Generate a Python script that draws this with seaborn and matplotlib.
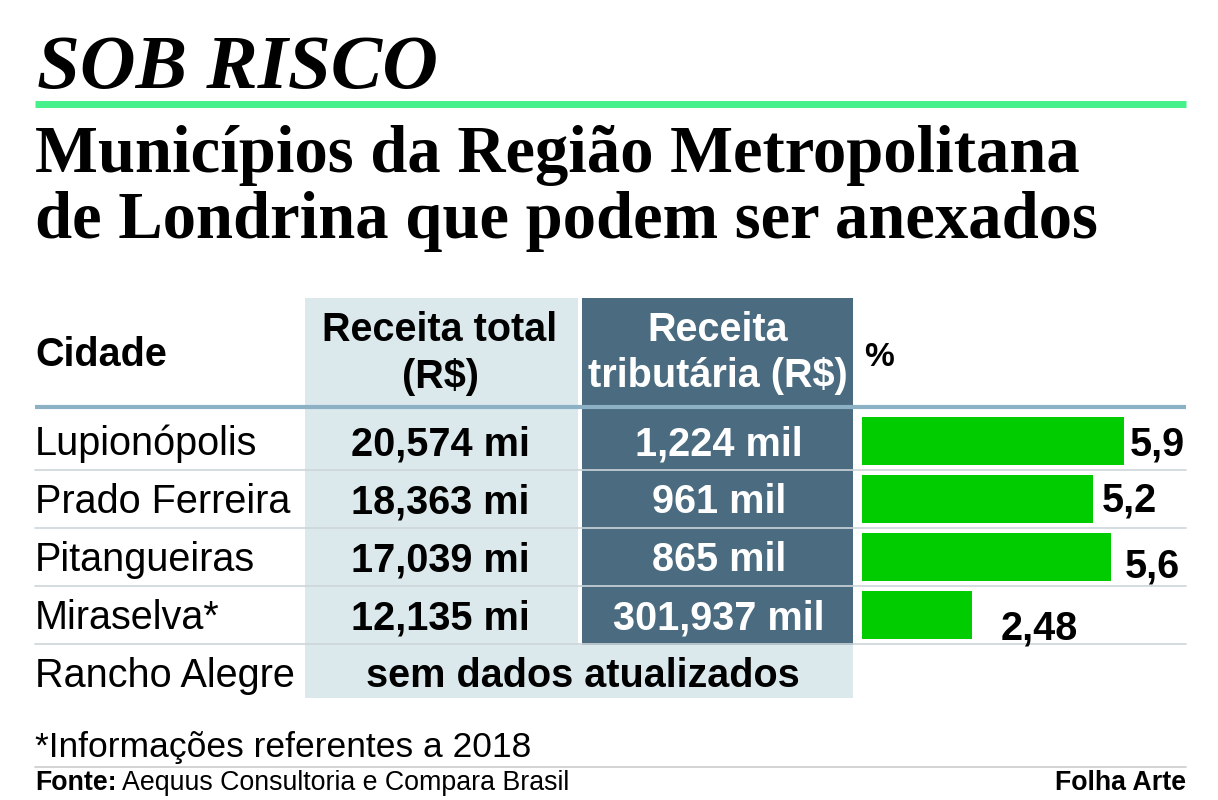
import pandas as pd
import matplotlib.pyplot as plt
import seaborn as sns

# dados da tabela
cidades = ['Lupionópolis', 'Prado Ferreira', 'Pitangueiras', 'Miraselva*', 'Rancho Alegre']
receita_total = ['20,574 mi', '18,363 mi', '17,039 mi', '12,135 mi']
receita_trib = ['1,224 mil', '961 mil', '865 mil', '301,937 mil']
pct = [5.9, 5.2, 5.6, 2.48]
sem_dados = 'sem dados atualizados'

titulo = 'SOB RISCO'
subtitulo = ['Municípios da Região Metropolitana', 'de Londrina que podem ser anexados']
nota = '*Informações referentes a 2018'
fonte = 'Aequus Consultoria e Compara Brasil'

sns.set_theme(style='white')
plt.rcParams['font.family'] = ['Liberation Sans', 'DejaVu Sans']
plt.rcParams['text.color'] = 'black'

W, H = 1218, 800
fig = plt.figure(figsize=(W / 100, H / 100), dpi=100)
fig.patch.set_facecolor('white')

# eixo de fundo em pixels
ax = fig.add_axes([0, 0, 1, 1])
ax.set_xlim(0, W)
ax.set_ylim(H, 0)
ax.axis('off')

serif = ['Liberation Serif', 'DejaVu Serif']
ax.text(37, 88, titulo, fontsize=55.5, fontweight='bold', fontstyle='italic',
        family=serif, va='baseline')
ax.plot([35, 1186], [103.5, 103.5], color='#46f08a', lw=5, solid_capstyle='butt')
ax.text(35, 172, subtitulo[0], fontsize=48, fontweight='bold', family=serif, va='baseline')
ax.text(35, 238, subtitulo[1], fontsize=48, fontweight='bold', family=serif, va='baseline')

# fundos das colunas
light = '#dce9ec'
dark = '#4b6c80'
ax.add_patch(plt.Rectangle((305, 298), 273, 400, color=light, lw=0))
ax.add_patch(plt.Rectangle((582, 298), 271, 347, color=dark, lw=0))
ax.add_patch(plt.Rectangle((578, 645), 275, 53, color=light, lw=0))

# linhas
ax.plot([35, 1186], [407, 407], color='#8cb0c4', lw=3, solid_capstyle='butt')
row_h = 58
top = 412
for i in range(1, 5):
    y = top + i * row_h
    ax.plot([35, 1186], [y, y], color='#ccd5da', lw=1.2)

# cabeçalho
fs = 28.5
ax.text(35, 366, 'Cidade', fontsize=fs, fontweight='bold', va='baseline')
ax.text(440, 341, 'Receita total', fontsize=fs, fontweight='bold', ha='center', va='baseline')
ax.text(440, 388, '(R$)', fontsize=fs, fontweight='bold', ha='center', va='baseline')
ax.text(718, 341, 'Receita', fontsize=fs, fontweight='bold', ha='center', va='baseline', color='white')
ax.text(718, 387, 'tributária (R$)', fontsize=fs, fontweight='bold', ha='center', va='baseline', color='white')
ax.text(864, 366, '%', fontsize=24, fontweight='bold', va='baseline')

# linhas da tabela
for i, c in enumerate(cidades):
    yb = top + i * row_h + 43
    ax.text(35, yb, c, fontsize=fs, va='baseline')
    if i < len(receita_total):
        ax.text(440, yb, receita_total[i], fontsize=fs, fontweight='bold', ha='center', va='baseline')
        ax.text(719, yb, receita_trib[i], fontsize=fs, fontweight='bold', ha='center',
                va='baseline', color='white')
    else:
        ax.text(583, yb, sem_dados, fontsize=fs, fontweight='bold', ha='center', va='baseline')

# barras
x0, x1 = 862, 1186
px_per_unit = 44.4
axb = fig.add_axes([x0 / W, (H - (top + 4 * row_h)) / H, (x1 - x0) / W, 4 * row_h / H])
df = pd.DataFrame({'cidade': cidades[:4], 'pct': pct})
sns.barplot(data=df, x='pct', y='cidade', color='#00cc00', saturation=1, width=0.82,
            ax=axb, edgecolor='none')
axb.set_xlim(0, (x1 - x0) / px_per_unit)
axb.set_ylim(3.5, -0.5)
axb.axis('off')
axb.patch.set_alpha(0)

# rótulos das barras (deslocamentos em pixels)
dx = [6, 9, 14, 29]
dy = [-14, -12, -21, -24]
for i, v in enumerate(pct):
    axb.annotate(str(v).replace('.', ','), xy=(v, i), xytext=(dx[i], dy[i]),
                 textcoords='offset pixels', fontsize=fs, fontweight='bold',
                 ha='left', va='baseline')

# rodapé
ax.text(35, 757, nota, fontsize=25.5, va='baseline')
ax.plot([35, 1186], [767, 767], color='#cccccc', lw=1.2)
t1 = ax.text(35, 790, 'Fonte:', fontsize=19.3, fontweight='bold', va='baseline')
fig.canvas.draw()
bb = t1.get_window_extent()
xe = ax.transData.inverted().transform((bb.x1, bb.y0))[0]
ax.text(xe + 5, 790, fonte, fontsize=19.3, va='baseline')
ax.text(1186, 790, 'Folha Arte', fontsize=19.3, fontweight='bold', ha='right', va='baseline')

plt.savefig('out.png', dpi=100, facecolor='white')
